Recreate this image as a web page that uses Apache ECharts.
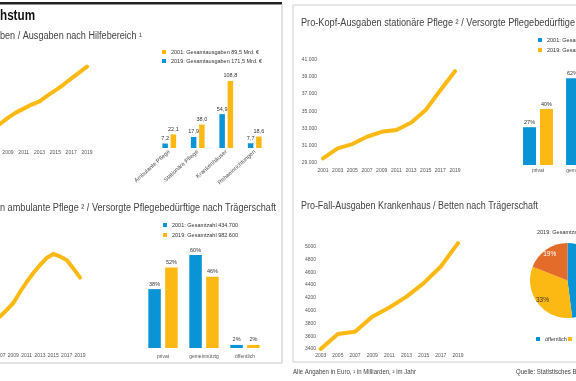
<!DOCTYPE html>
<html><head><meta charset="utf-8">
<script src="https://cdn.jsdelivr.net/npm/echarts@6/dist/echarts.min.js"></script>
<style>html,body{margin:0;padding:0;background:#fff}#c{width:576px;height:381px}</style>
</head><body><div id="c"></div>
<script>
// ---------- data ----------
const tlYears = ['2008','2009','2010','2011','2012','2013','2014','2015','2016','2017','2018','2019'];
const tlSpend = [267,282,295,305,315,323,337,350,364,379,394,409];
const tlCats = ['Ambulante Pflege','Stationäre Pflege','Krankenhäuser','Rehaeinrichtungen'];
const tl2001 = [7.2,17.9,54.9,7.7];
const tl2019 = [22.1,38.0,108.8,18.6];
const tlNames = ['2001: Gesamtausgaben 89,5 Mrd. €','2019: Gesamtausgaben 171,5 Mrd. €'];

const trYears = ['2001','2003','2005','2007','2009','2011','2013','2015','2017','2019'];
const trSpend = [29540,30700,31190,32040,32610,32810,33650,35120,37420,39620];
const tragerCats = ['privat','gemeinnützig','öffentlich'];
const tr2001 = [27,62,11];
const tr2019 = [40,53,7];
const trNames = ['2001: Gesamtzahl 604.400','2019: Gesamtzahl 818.300'];

const blYears = ['2007','2008','2009','2010','2011','2012','2013','2014','2015','2016','2017','2018','2019'];
const blSpend = [8170,8500,8850,9400,9900,10350,10750,11100,11300,11180,11000,10580,10120];
const bl2001 = [38,60,2];
const bl2019 = [52,46,2];
const blNames = ['2001: Gesamtzahl 434.700','2019: Gesamtzahl 982.600'];

const brYears = ['2003','2005','2007','2009','2011','2013','2015','2017','2019'];
const brSpend = [3400,3635,3670,3905,4050,4220,4430,4690,5055];
const bedNames = ['öffentlich','gemeinnützig','privat'];
const bedShare = [48,33,19];

// ---------- style ----------
const BLUE = '#0a94d6', YEL = '#fdb913', ORG = '#e36c2a';
const FONT = '"Liberation Sans", Arial, sans-serif';
const AX = {fontSize:5, color:'#555', fontFamily:FONT};

const deNum = v => String(v).replace(/\B(?=(\d{3})+(?!\d))/g,'.');
const deDec = p => p.value.toFixed(1).replace('.',',');

const mctx = document.createElement('canvas').getContext('2d');
function fit(sample, font, target){ mctx.font = font; return target / mctx.measureText(sample).width; }

function lineSeries(x, y, data){
  return {type:'line', xAxisIndex:x, yAxisIndex:y, data:data, symbol:'none', clip:false,
    lineStyle:{color:YEL, width:4, cap:'round', join:'round'}, itemStyle:{color:YEL}};
}
function barSeries(name, x, y, data, color, w, gap, cgap, fmt){
  return {type:'bar', name:name, xAxisIndex:x, yAxisIndex:y, data:data, barWidth:w, barGap:gap, barCategoryGap:cgap,
    itemStyle:{color:color}, label:{show:true, position:'top', distance:2, fontSize:5.5, color:'#333', fontFamily:FONT, formatter:fmt}};
}
function catAxis(grid, data, opts){
  return Object.assign({type:'category', gridIndex:grid, data:data, axisLine:{show:false}, axisTick:{show:false},
    splitLine:{show:false}}, opts);
}
const hiddenY = (grid, min, max) => ({type:'value', gridIndex:grid, min:min, max:max, show:false, splitLine:{show:false}});
const G = o => Object.assign({outerBoundsMode:'none', containLabel:false}, o);
const oddOnly = (i, v) => (+v) % 2 === 1;
const LEG = {itemWidth:4, itemHeight:4, icon:'rect', padding:0, textStyle:{fontSize:5.5, color:'#333', fontFamily:FONT}};

function txt(x, y, text, font, align, sample, target, fill){
  return {type:'text', x:x, y:y, scaleX: fit(sample, font, target), silent:true,
    style:{text:text, align:align, verticalAlign:'middle', font:font, fill:fill || '#444'}};
}
const F10 = '10px ' + FONT;

const option = {
  backgroundColor:'#fff',
  animation:false,
  grid:[
    G({left:0, width:87, top:50, height:97}),          // 0 top-left line
    G({left:155, width:114, top:74, height:74}),       // 1 top-left bars
    G({left:323, width:132, top:59.3, height:103.7}),  // 2 top-right line
    G({left:516.5, width:129, top:67, height:98}),     // 3 top-right bars
    G({left:0, width:80, top:240, height:110}),        // 4 bottom-left line
    G({left:142.5, width:123, top:239.5, height:108.5}),// 5 bottom-left bars
    G({left:320.7, width:137.3, top:246.7, height:102.3}) // 6 bottom-right line
  ],
  xAxis:[
    catAxis(0, tlYears, {boundaryGap:false, axisLabel:Object.assign({interval:oddOnly, margin:3}, AX)}),
    catAxis(1, tlCats, {axisLabel:Object.assign({interval:0, rotate:42, margin:3}, AX, {fontSize:5.8})}),
    catAxis(2, trYears, {boundaryGap:false, axisLabel:Object.assign({interval:0, margin:5.5}, AX)}),
    catAxis(3, tragerCats, {axisLabel:Object.assign({interval:0, margin:3}, AX)}),
    catAxis(4, blYears, {boundaryGap:false, axisLabel:Object.assign({interval:oddOnly, margin:3.5}, AX)}),
    catAxis(5, tragerCats, {axisLabel:Object.assign({interval:0, margin:6}, AX)}),
    catAxis(6, brYears, {boundaryGap:false, axisLabel:Object.assign({interval:0, margin:4.5}, AX)})
  ],
  yAxis:[
    hiddenY(0, 210, 450),
    hiddenY(1, 0, 120),
    {type:'value', gridIndex:2, min:29000, max:41000, interval:2000, axisLine:{show:false}, axisTick:{show:false},
      splitLine:{show:false}, axisLabel:Object.assign({margin:6, formatter:deNum}, AX)},
    hiddenY(3, 0, 70),
    hiddenY(4, 6500, 12000),
    hiddenY(5, 0, 70),
    {type:'value', gridIndex:6, min:3400, max:5000, interval:200, axisLine:{show:false}, axisTick:{show:false},
      splitLine:{show:false}, axisLabel:Object.assign({margin:4.7, formatter:v => String(v)}, AX)}
  ],
  legend:[
    Object.assign({}, LEG, {orient:'vertical', left:162, top:49, itemGap:3,
      data:[{name:tlNames[0], itemStyle:{color:YEL}}, {name:tlNames[1], itemStyle:{color:BLUE}}]}),
    Object.assign({}, LEG, {orient:'vertical', left:538, top:37, itemGap:4, width:200, data:trNames}),
    Object.assign({}, LEG, {orient:'vertical', left:163, top:222, itemGap:4, data:blNames}),
    Object.assign({}, LEG, {orient:'horizontal', left:536, top:336, itemGap:1, width:300, data:bedNames})
  ],
  series:[
    lineSeries(0,0,tlSpend),
    barSeries(tlNames[0],1,1,tl2001,BLUE,5.5,'50%','50%',deDec),
    barSeries(tlNames[1],1,1,tl2019,YEL,5.5,'50%','50%',deDec),
    lineSeries(2,2,trSpend),
    barSeries(trNames[0],3,3,tr2001,BLUE,13,'30%','30%','{c}%'),
    barSeries(trNames[1],3,3,tr2019,YEL,13,'30%','30%','{c}%'),
    lineSeries(4,4,blSpend),
    barSeries(blNames[0],5,5,bl2001,BLUE,12.5,'35%','30%','{c}%'),
    barSeries(blNames[1],5,5,bl2019,YEL,12.5,'35%','30%','{c}%'),
    lineSeries(6,6,brSpend),
    {type:'pie', center:[567.5,280.5], radius:[0,37.5], startAngle:90, label:{show:false}, labelLine:{show:false},
      data:bedNames.map((n,i)=>({name:n, value:bedShare[i], itemStyle:{color:[BLUE,YEL,ORG][i]}}))},
    {type:'pie', center:[567.5,280.5], radius:[20,37.5], startAngle:90, silent:true, labelLine:{show:false},
      itemStyle:{color:'rgba(0,0,0,0)'},
      label:{show:true, position:'inside', formatter:'{c}%', fontSize:6.5, fontFamily:FONT},
      data:bedNames.map((n,i)=>({name:n, value:bedShare[i], itemStyle:{color:'rgba(0,0,0,0)'},
        label:{color: i===2 ? '#fff' : '#333'}}))}
  ],
  graphic:[
    // frames
    {type:'rect', shape:{x:0, y:2, width:282, height:2.5}, style:{fill:'#222'}, silent:true},
    {type:'line', shape:{x1:282, y1:4, x2:282, y2:363}, style:{stroke:'#c8c8c8', lineWidth:1}, silent:true},
    {type:'line', shape:{x1:0, y1:363, x2:282, y2:363}, style:{stroke:'#c8c8c8', lineWidth:1}, silent:true},
    {type:'line', shape:{x1:293, y1:5, x2:576, y2:5}, style:{stroke:'#d0d0d0', lineWidth:1}, silent:true},
    {type:'line', shape:{x1:293, y1:5, x2:293, y2:362}, style:{stroke:'#d0d0d0', lineWidth:1}, silent:true},
    {type:'line', shape:{x1:293, y1:362, x2:576, y2:362}, style:{stroke:'#d0d0d0', lineWidth:1}, silent:true},
    // titles
    txt(35, 16, 'Gesundheitswesen: Kostenwachstum', 'bold 14px ' + FONT, 'right', 'hstum', 35, '#111'),
    txt(142, 36, 'Gesundheitsausgaben / Ausgaben nach Hilfebereich ¹', F10, 'right', 'ben / Ausgaben nach Hilfebereich ¹', 142),
    txt(301, 23, 'Pro-Kopf-Ausgaben stationäre Pflege ² / Versorgte Pflegebedürftige nach Trägerschaft', F10, 'left',
        'Pro-Kopf-Ausgaben stationäre Pflege ² / Versorgte Pflegebedürftige', 274),
    txt(276, 208, 'Pro-Kopf-Ausgaben ambulante Pflege ² / Versorgte Pflegebedürftige nach Trägerschaft', F10, 'right',
        'n ambulante Pflege ² / Versorgte Pflegebedürftige nach Trägerschaft', 276),
    txt(301, 206, 'Pro-Fall-Ausgaben Krankenhaus / Betten nach Trägerschaft', F10, 'left',
        'Pro-Fall-Ausgaben Krankenhaus / Betten nach Trägerschaft', 237),
    {type:'text', x:537, y:232, silent:true,
      style:{text:'2019: Gesamtzahl 494.300', align:'left', verticalAlign:'middle', font:'5.5px '+FONT, fill:'#333'}},
    // footer
    txt(293, 372, 'Alle Angaben in Euro, ¹ in Milliarden, ² im Jahr', '7px ' + FONT, 'left',
        'Alle Angaben in Euro, ¹ in Milliarden, ² im Jahr', 123),
    txt(516, 372, 'Quelle: Statistisches Bundesamt', '7px ' + FONT, 'left',
        'Alle Angaben in Euro, ¹ in Milliarden, ² im Jahr', 123)
  ]
};
const chart = echarts.init(document.getElementById('c'), null, {renderer:'canvas'});
chart.setOption(option);
</script></body></html>
